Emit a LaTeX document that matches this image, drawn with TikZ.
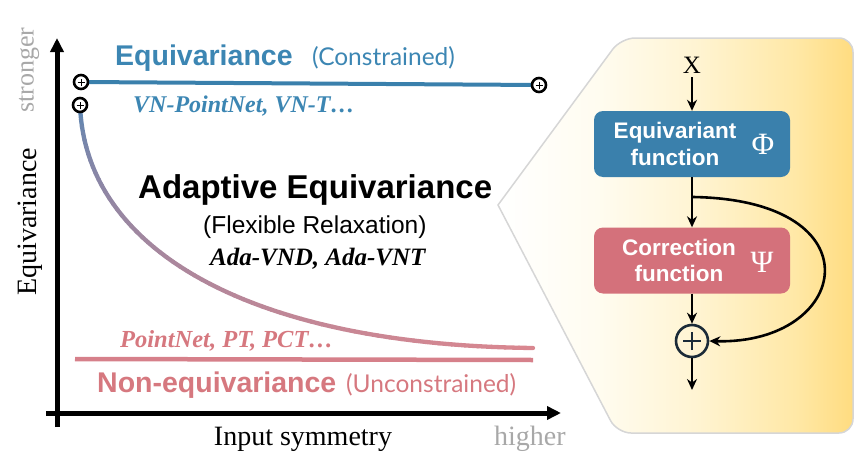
\documentclass[tikz,border=0pt]{standalone}
\usepackage{fontspec}
\setmainfont{Liberation Serif}
\setsansfont{Liberation Sans}
\newfontfamily\lightfont{Lato}
\usetikzlibrary{arrows.meta}
\definecolor{eqblue}{HTML}{3A80AC}
\definecolor{eqbluetxt}{HTML}{3C86B3}
\definecolor{nepink}{HTML}{D4717B}
\definecolor{nepinktxt}{HTML}{D6787F}
\definecolor{nepinkline}{HTML}{D6808A}
\definecolor{gtxt}{HTML}{A8A8A8}
\definecolor{curveblue}{HTML}{4F86B6}
\definecolor{curvepink}{HTML}{D98790}
\definecolor{panelborder}{HTML}{D6D6D6}
\definecolor{darkc}{HTML}{1B2B38}
\definecolor{pA}{HTML}{FFFCF0}
\definecolor{pB}{HTML}{FFF4D2}
\definecolor{pC}{HTML}{FFE8A6}
\definecolor{pD}{HTML}{FFDC80}
\pgfdeclarehorizontalshading{panelshade}{100bp}{color(0bp)=(white); color(25bp)=(white); color(39bp)=(pA); color(53bp)=(pB); color(67bp)=(pC); color(75bp)=(pD); color(100bp)=(pD)}
\tikzset{
  txt/.style={anchor=base west, inner sep=0pt},
  axisline/.style={line width=5pt, -{Triangle[length=14pt,width=13pt]}},
  flow/.style={line width=2.6pt, -{Stealth[length=11pt,width=10pt]}},
  endpt/.style={circle, draw=black, line width=2.6pt, fill=white, minimum size=14pt, inner sep=0pt,
    path picture={\draw[line width=1pt] (path picture bounding box.center) +(-3.5pt,0pt) -- +(3.5pt,0pt)
      (path picture bounding box.center) +(0pt,-3.5pt) -- +(0pt,3.5pt);}},
  fbox/.style={rounded corners=9pt, minimum width=196pt, minimum height=66pt, inner sep=0pt},
  boxtxt/.style={text=white, font=\sffamily\bfseries\fontsize{22.5}{26.5}\selectfont, align=center, inner sep=0pt},
  greek/.style={text=white, font=\rmfamily\fontsize{31}{31}\selectfont, inner sep=0pt},
}
\begin{document}
\begin{tikzpicture}[x=1pt,y=-1pt]
\useasboundingbox (0,0) rectangle (854,471);
% right panel
\shade[shading=panelshade, draw=panelborder, line width=1.5pt]
  (498,205) [rounded corners=14pt] -- (621,38) -- (853,38) -- (853,433) -- (617,433) [sharp corners] -- cycle;
% axes
\coordinate (ybot) at (57,427);
\coordinate (ytop) at (57,38);
\coordinate (xleft) at (46,413);
\coordinate (xright) at (561,413);
\draw[axisline] (ybot) -- (ytop);
\draw[axisline] (xleft) -- (xright);
% equivariance line
\coordinate (eqa) at (81,82);
\coordinate (eqb) at (539,85);
\draw[line width=4pt, eqblue] (eqa) -- (eqb);
% non-equivariance line
\coordinate (nea) at (75,359);
\coordinate (neb) at (533,360);
\draw[line width=4.5pt, nepinkline] (nea) -- (neb);
% adaptive curve
\coordinate (ca) at (80,105);
\coordinate (cb) at (533,348);
\foreach \i in {0,...,60}{
  \pgfmathsetmacro\tt{\i/60}
  \path (ca) .. controls (85,250) and (250,345) .. (cb) coordinate[pos=\tt] (q\i);
}
\foreach \i [evaluate=\i as \j using int(\i+1), evaluate=\i as \c using {100*sqrt(\i/59)}] in {0,...,59}{
  \draw[line width=4.3pt, line cap=round, color=curvepink!\c!curveblue] (q\i) -- (q\j);
}
\node[endpt] (m1) at (eqa) {};
\node[endpt] (m2) at (eqb) {};
\node[endpt] (m3) at (ca) {};
% texts left
\node[txt, text=eqbluetxt, font=\sffamily\bfseries\fontsize{28.5}{30}\selectfont] (eqhead) at (115,65) {Equivariance};
\node[txt, text=eqbluetxt, font=\lightfont\fontsize{24.5}{26}\selectfont] (eqcons) at (312,65) {(Constrained)};
\node[txt, text=eqbluetxt, font=\rmfamily\bfseries\itshape\fontsize{24}{26}\selectfont] (vn) at (133,112) {VN-PointNet, VN-T…};
\node[txt, text=black, font=\sffamily\bfseries\fontsize{33}{35}\selectfont] (adhead) at (138,198) {Adaptive Equivariance};
\node[txt, text=black, font=\sffamily\fontsize{24.5}{26}\selectfont] (flex) at (203,233) {(Flexible Relaxation)};
\node[txt, text=black, font=\rmfamily\bfseries\itshape\fontsize{25}{27}\selectfont] (ada) at (210,265) {Ada-VND, Ada-VNT};
\node[txt, text=nepinktxt, font=\rmfamily\bfseries\itshape\fontsize{24.5}{26}\selectfont] (pn) at (120,347) {PointNet, PT, PCT…};
\node[txt, text=nepinktxt, font=\sffamily\bfseries\fontsize{28.5}{30}\selectfont] (nehead) at (97,392) {Non-equivariance};
\node[txt, text=nepinktxt, font=\lightfont\fontsize{24.5}{26}\selectfont] (necons) at (346,392) {(Unconstrained)};
\node[anchor=base, inner sep=0pt, font=\rmfamily\fontsize{28}{30}\selectfont] (xlab) at (303,445) {Input symmetry};
\node[txt, text=gtxt, font=\rmfamily\fontsize{28}{30}\selectfont] (higher) at (494,445) {higher};
\node[rotate=90, inner sep=0pt, font=\rmfamily\fontsize{28}{30}\selectfont] (ylab) at (30,222) {Equivariance};
\node[rotate=90, inner sep=0pt, text=gtxt, font=\rmfamily\fontsize{26}{28}\selectfont] (strong) at (29,70) {stronger};
% flow diagram
\node[inner sep=4pt, font=\rmfamily\fontsize{25}{25}\selectfont] (xin) at (692,65) {X};
\node[fbox, fill=eqblue] (eq) at (692,144) {};
\node[boxtxt] (eqtxt) at (675,144) {Equivariant\\function};
\node[greek] (phi) at (763,144) {Φ};
\node[fbox, fill=nepink] (corr) at (692,260.5) {};
\node[boxtxt] (corrtxt) at (679,260.5) {Correction\\function};
\node[greek] (psi) at (762,262) {Ψ};
\node[circle, draw=darkc, line width=2.6pt, minimum size=32pt, inner sep=0pt,
  path picture={\draw[line width=2.8pt] (path picture bounding box.center) +(-9pt,0pt) -- +(9pt,0pt)
      (path picture bounding box.center) +(0pt,-9pt) -- +(0pt,9pt);}] (plus) at (692,341) {};
\coordinate (out) at (692,390);
\coordinate (branch) at (693,197);
\draw[flow] (xin.south) -- (eq.north);
\draw[flow] (eq.south) -- (corr.north);
\draw[flow] (corr.south) -- (plus.north);
\draw[flow] (plus.south) -- (out);
\draw[flow] (branch) .. controls (880,200) and (850,345) .. (plus.east);
\end{tikzpicture}
\end{document}
